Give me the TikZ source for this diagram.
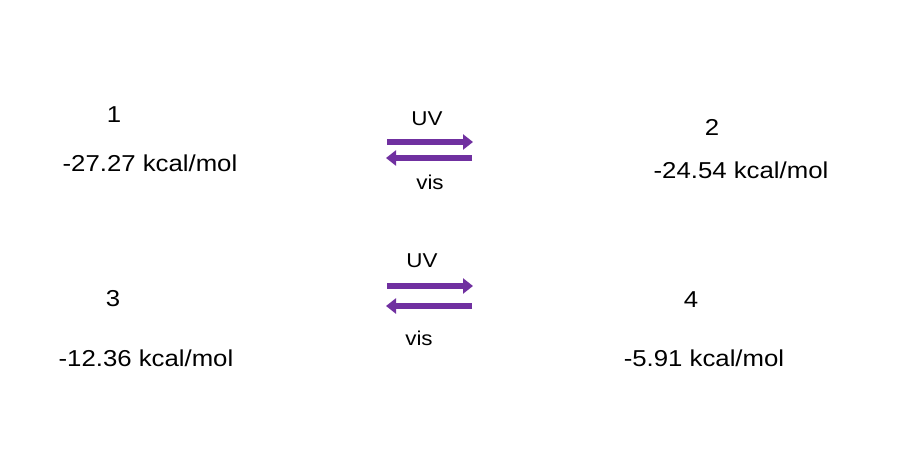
\documentclass[tikz,border=0pt]{standalone}
\usepackage{fontspec}
\setmainfont{Liberation Sans}
\newfontfamily\widefont[FakeStretch=1.12]{Liberation Sans}
\usetikzlibrary{arrows.meta}
\definecolor{arrpurple}{RGB}{112,48,160}
\begin{document}
\begin{tikzpicture}[x=1pt,y=-1pt,
  lbl/.style={inner sep=0pt,font=\widefont\fontsize{23}{27}\selectfont},
  cond/.style={inner sep=0pt,font=\widefont\fontsize{20}{24}\selectfont},
  rx/.style={draw=arrpurple,line width=6pt,-{Triangle[length=10pt,width=15pt]}}]
\path[use as bounding box,fill=white] (0,0) rectangle (900,452);
% molecule labels
\node[lbl] (n1) at (114,115) {1};
\node[lbl] (e1) at (150,163) {-27.27 kcal/mol};
\node[lbl] (n2) at (712,127) {2};
\node[lbl] (e2) at (741,170) {-24.54 kcal/mol};
\node[lbl] (n3) at (113,299) {3};
\node[lbl] (e3) at (146,358) {-12.36 kcal/mol};
\node[lbl] (n4) at (691,300) {4};
\node[lbl] (e4) at (704,358) {-5.91 kcal/mol};
% conditions
\node[cond] (uv1) at (427,119) {UV};
\node[cond] (vis1) at (430,182) {vis};
\node[cond] (uv2) at (422,261) {UV};
\node[cond] (vis2) at (419,338) {vis};
% arrows
\coordinate (a1s) at (387,142); \coordinate (a1e) at (473,142);
\coordinate (b1s) at (472,158); \coordinate (b1e) at (386,158);
\coordinate (a2s) at (387,286); \coordinate (a2e) at (473,286);
\coordinate (b2s) at (472,306); \coordinate (b2e) at (386,306);
\draw[rx] (a1s) -- (a1e);
\draw[rx] (b1s) -- (b1e);
\draw[rx] (a2s) -- (a2e);
\draw[rx] (b2s) -- (b2e);
\end{tikzpicture}
\end{document}
